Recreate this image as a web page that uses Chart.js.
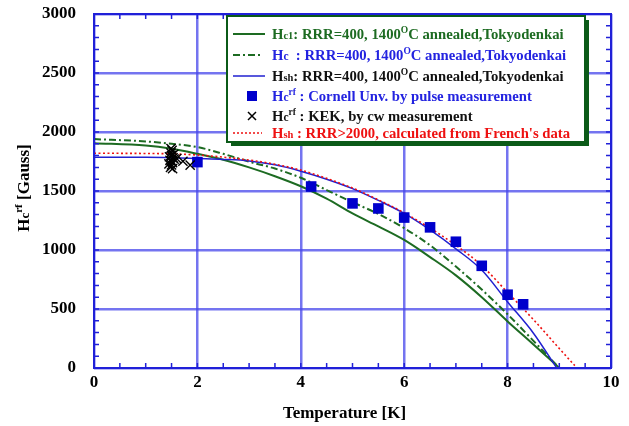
<!DOCTYPE html>
<html>
<head>
<style>
  html, body { margin: 0; padding: 0; background: #fff; }
</style>
</head>
<body>
<canvas id="myChart" width="629" height="426"></canvas>
<script src="https://cdn.jsdelivr.net/npm/chart.js"></script>
<script>
// Hc1, solid green
const hc1T = [0, 1, 1.5, 2, 2.5, 3, 3.5, 4, 4.5, 5, 5.5, 6, 6.5, 7, 7.5, 8, 8.5, 9];
const hc1H = [1905, 1885, 1858, 1815, 1765, 1700, 1625, 1540, 1435, 1310, 1200, 1085, 940, 785, 600, 395, 200, 0];
// Hc, dash-dot green
const hcT = [0, 1, 1.5, 2, 2.5, 3, 3.5, 4, 4.5, 5, 5.5, 6, 6.5, 7, 7.5, 8, 8.5, 9];
const hcH = [1940, 1920, 1900, 1872, 1815, 1748, 1690, 1612, 1508, 1405, 1305, 1185, 1040, 860, 665, 455, 230, 0];
// Hsh, solid blue
const hshT = [0, 1, 1.5, 2, 2.5, 3, 3.5, 4, 4.5, 5, 5.5, 6, 6.5, 7, 7.5, 8, 8.5, 8.95];
const hshH = [1785, 1785, 1782, 1775, 1768, 1755, 1722, 1668, 1600, 1520, 1420, 1310, 1170, 1010, 830, 560, 295, 0];
// Hsh RRR>2000, red dotted
const frT = [0, 1, 1.5, 2, 2.5, 3, 3.5, 4, 4.5, 5, 5.5, 6, 6.5, 7, 7.5, 8, 8.5, 9, 9.3];
const frH = [1820, 1818, 1815, 1805, 1787, 1762, 1727, 1677, 1607, 1525, 1425, 1315, 1185, 1040, 868, 640, 410, 165, 20];
// Cornell pulse measurement
const cornellT = [2.0, 4.2, 5.0, 5.5, 6.0, 6.5, 7.0, 7.5, 8.0, 8.3];
const cornellH = [1745, 1538, 1395, 1352, 1275, 1192, 1070, 866, 621, 540];
// KEK cw measurement
const kekT = [1.48, 1.5, 1.52, 1.47, 1.53, 1.5, 1.49, 1.51, 1.55, 1.46, 1.5, 1.45, 1.54, 1.49, 1.52, 1.6, 1.72, 1.86];
const kekH = [1700, 1722, 1740, 1760, 1780, 1800, 1822, 1845, 1770, 1790, 1752, 1730, 1810, 1860, 1690, 1775, 1752, 1720];

const xTicks = [0, 2, 4, 6, 8, 10];
const yTicks = [0, 500, 1000, 1500, 2000, 2500, 3000];

const SERIF = '"Liberation Serif", "Times New Roman", serif';
const FRAME = '#2020d8';
const GREEN = '#1d6b22';

function pts(xs, ys) {
  return xs.map((x, i) => ({ x: x, y: ys[i] }));
}

function richText(ctx, x, y, parts) {
  parts.forEach(p => {
    ctx.font = 'bold ' + p[1] + 'px ' + SERIF;
    ctx.fillText(p[0], x, y + (p[2] || 0));
    x += ctx.measureText(p[0]).width;
  });
  return x;
}

function richWidth(ctx, parts) {
  let w = 0;
  parts.forEach(p => {
    ctx.font = 'bold ' + p[1] + 'px ' + SERIF;
    w += ctx.measureText(p[0]).width;
  });
  return w;
}

const F = 14.7, FS = 10.5, FU = 9.5;
const legendRows = [
  { color: GREEN, kind: 'solid', y: 34,
    parts: [['H', F], ['c1', FS], [': RRR=400, 1400', F], ['O', FU, -6], ['C annealed,Tokyodenkai', F]] },
  { color: '#2323e0', kind: 'dashdot', y: 55,
    parts: [['H', F], ['c', 11.5], ['  : RRR=400, 1400', F], ['O', FU, -6], ['C annealed,Tokyodenkai', F]] },
  { color: '#111111', kind: 'blue', y: 76,
    parts: [['H', F], ['sh', FS], [': RRR=400, 1400', F], ['O', FU, -6], ['C annealed,Tokyodenkai', F]] },
  { color: '#2323e0', kind: 'square', y: 96,
    parts: [['H', F], ['c', 11.5], ['rf', FU, -6], [' : Cornell Unv. by pulse measurement', F]] },
  { color: '#111111', kind: 'cross', y: 116,
    parts: [['H', F], ['c', 11.5], ['rf', FU, -6], [' : KEK, by cw measurement', F]] },
  { color: '#ee1111', kind: 'dotted', y: 133,
    parts: [['H', F], ['sh', FS], [' : RRR>2000, calculated from French\'s data', F]] }
];

const decorPlugin = {
  id: 'decor',
  afterDatasetsDraw(chart) {
    const ctx = chart.ctx;
    const a = chart.chartArea;
    const xs = chart.scales.x, ys = chart.scales.y;
    ctx.save();
    ctx.strokeStyle = FRAME;
    ctx.lineWidth = 1.5;
    ctx.beginPath();
    for (let i = 1; i < 20; i++) {
      const px = xs.getPixelForValue(i * 0.5);
      ctx.moveTo(px, a.bottom); ctx.lineTo(px, a.bottom - 5);
      ctx.moveTo(px, a.top); ctx.lineTo(px, a.top + 5);
    }
    for (let i = 1; i < 30; i++) {
      const py = ys.getPixelForValue(i * 100);
      ctx.moveTo(a.left, py); ctx.lineTo(a.left + 5, py);
      ctx.moveTo(a.right, py); ctx.lineTo(a.right - 5, py);
    }
    ctx.stroke();
    ctx.lineWidth = 2;
    ctx.strokeRect(a.left, a.top, a.right - a.left, a.bottom - a.top);
    ctx.restore();
  },
  afterDraw(chart) {
    const ctx = chart.ctx;
    const a = chart.chartArea;
    ctx.save();
    // legend box with shadow
    const bx = 227, by = 16, bw = 358, bh = 126;
    ctx.fillStyle = '#0b5a18';
    ctx.fillRect(bx + 4, by + 4, bw, bh);
    ctx.fillStyle = '#ffffff';
    ctx.fillRect(bx, by, bw, bh);
    ctx.strokeStyle = '#0b5a18';
    ctx.lineWidth = 2;
    ctx.strokeRect(bx, by, bw, bh);

    legendRows.forEach(r => {
      const y = r.y;
      ctx.setLineDash([]);
      ctx.lineWidth = 2;
      if (r.kind === 'solid') {
        ctx.strokeStyle = GREEN;
        ctx.beginPath(); ctx.moveTo(233, y); ctx.lineTo(265, y); ctx.stroke();
      } else if (r.kind === 'dashdot') {
        ctx.strokeStyle = GREEN;
        ctx.setLineDash([7, 3, 2, 3]);
        ctx.beginPath(); ctx.moveTo(233, y); ctx.lineTo(262, y); ctx.stroke();
      } else if (r.kind === 'blue') {
        ctx.strokeStyle = '#2020d0';
        ctx.lineWidth = 1.5;
        ctx.beginPath(); ctx.moveTo(233, y); ctx.lineTo(265, y); ctx.stroke();
      } else if (r.kind === 'dotted') {
        ctx.strokeStyle = '#ee1111';
        ctx.lineWidth = 1.5;
        ctx.setLineDash([2, 2]);
        ctx.beginPath(); ctx.moveTo(233, y); ctx.lineTo(262, y); ctx.stroke();
      } else if (r.kind === 'square') {
        ctx.fillStyle = '#0000cc';
        ctx.fillRect(247, y - 5, 10, 10);
      } else if (r.kind === 'cross') {
        ctx.strokeStyle = '#000';
        ctx.lineWidth = 1.5;
        ctx.beginPath();
        ctx.moveTo(248, y - 4); ctx.lineTo(256, y + 4);
        ctx.moveTo(256, y - 4); ctx.lineTo(248, y + 4);
        ctx.stroke();
      }
      ctx.setLineDash([]);
      ctx.fillStyle = r.color;
      ctx.textBaseline = 'alphabetic';
      richText(ctx, 272, y + 5, r.parts);
    });

    // axis titles
    ctx.fillStyle = '#000';
    const xt = [['Temperature [K]', 17]];
    richText(ctx, (a.left + a.right) / 2 - richWidth(ctx, xt) / 2 - 8, 418, xt);

    const yt = [['H', 17], ['c', 13], ['rf', 11, -7], [' [Gauss]', 17]];
    ctx.translate(29, (a.top + a.bottom) / 2 - 3);
    ctx.rotate(-Math.PI / 2);
    richText(ctx, -richWidth(ctx, yt) / 2, 0, yt);
    ctx.restore();
  }
};

const ctx = document.getElementById('myChart');

function noPad(s) {
  s.paddingTop = 0; s.paddingBottom = 0; s.paddingLeft = 0; s.paddingRight = 0;
}

new Chart(ctx, {
  type: 'scatter',
  data: {
    datasets: [
      {
        label: 'KEK',
        data: pts(kekT, kekH),
        pointStyle: 'crossRot',
        pointRadius: 6.5,
        borderColor: '#000000',
        borderWidth: 1.4,
        showLine: false
      },
      {
        label: 'Cornell',
        data: pts(cornellT, cornellH),
        pointStyle: 'rect',
        pointRadius: 7.5,
        backgroundColor: '#0000cc',
        borderWidth: 0,
        showLine: false
      },
      {
        label: 'Hsh French',
        data: pts(frT, frH),
        showLine: true,
        pointRadius: 0,
        borderColor: '#ee1111',
        borderWidth: 1.6,
        borderDash: [2, 2.5],
        cubicInterpolationMode: 'monotone'
      },
      {
        label: 'Hsh',
        data: pts(hshT, hshH),
        showLine: true,
        pointRadius: 0,
        borderColor: '#2020d0',
        borderWidth: 1.5,
        cubicInterpolationMode: 'monotone'
      },
      {
        label: 'Hc',
        data: pts(hcT, hcH),
        showLine: true,
        pointRadius: 0,
        borderColor: GREEN,
        borderWidth: 2,
        borderDash: [7, 3, 2, 3],
        cubicInterpolationMode: 'monotone'
      },
      {
        label: 'Hc1',
        data: pts(hc1T, hc1H),
        showLine: true,
        pointRadius: 0,
        borderColor: GREEN,
        borderWidth: 2,
        cubicInterpolationMode: 'monotone'
      }
    ]
  },
  options: {
    responsive: false,
    animation: false,
    layout: { padding: { top: 14, right: 18, left: 0, bottom: 0 } },
    plugins: {
      legend: { display: false },
      tooltip: { enabled: false }
    },
    scales: {
      x: {
        type: 'linear',
        min: 0,
        max: 10,
        afterFit: s => { s.height = 58; noPad(s); },
        afterBuildTicks: s => { s.ticks = xTicks.map(v => ({ value: v })); },
        ticks: {
          padding: 4,
          color: '#000',
          callback: v => String(v),
          font: { family: SERIF, size: 17, weight: 'bold' }
        },
        grid: { color: 'rgba(70,70,235,0.75)', lineWidth: 2.5, drawTicks: false },
        border: { display: false }
      },
      y: {
        min: 0,
        max: 3000,
        afterFit: s => { s.width = 94; noPad(s); },
        afterBuildTicks: s => { s.ticks = yTicks.map(v => ({ value: v })); },
        ticks: {
          padding: 18,
          color: '#000',
          callback: v => String(v),
          font: { family: SERIF, size: 17, weight: 'bold' }
        },
        grid: { color: 'rgba(70,70,235,0.75)', lineWidth: 2.5, drawTicks: false },
        border: { display: false }
      }
    }
  },
  plugins: [decorPlugin]
});
</script>
</body>
</html>
